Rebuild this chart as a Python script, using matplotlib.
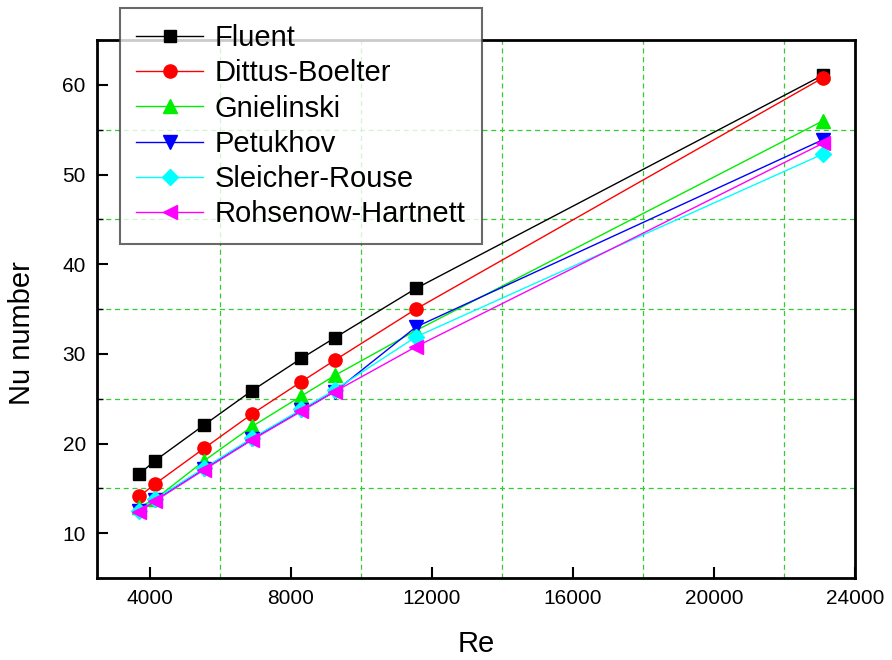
import matplotlib.pyplot as plt
from matplotlib.ticker import MultipleLocator

plt.rcParams['font.family'] = ['Liberation Sans', 'DejaVu Sans']

# Data
re = [3700, 4150, 5550, 6900, 8300, 9250, 11550, 23100]
fluent = [16.6, 18.1, 22.1, 25.9, 29.5, 31.8, 37.3, 61.1]
dittus = [14.1, 15.5, 19.5, 23.3, 26.9, 29.3, 35.0, 60.8]
gnielinski = [12.9, 13.8, 18.1, 21.9, 25.3, 27.6, 32.6, 56.0]
petukhov = [12.5, 13.7, 17.2, 20.5, 23.7, 25.8, 33.0, 53.9]
sleicher = [12.5, 13.8, 17.3, 20.6, 23.8, 26.0, 31.9, 52.3]
rohsenow = [12.4, 13.6, 17.1, 20.4, 23.6, 25.8, 30.8, 53.5]

series = [
    ("Fluent", fluent, "black", "s", 8.5),
    ("Dittus-Boelter", dittus, "#ff0000", "o", 9.5),
    ("Gnielinski", gnielinski, "#00ee00", "^", 10.5),
    ("Petukhov", petukhov, "#0000ff", "v", 10.5),
    ("Sleicher-Rouse", sleicher, "#00ffff", "D", 8.5),
    ("Rohsenow-Hartnett", rohsenow, "#ff00ff", "<", 10.5),
]

fig = plt.figure(figsize=(8.92, 6.6), dpi=100)
ax = fig.add_axes([0.1087, 0.1242, 0.8498, 0.8152])

for name, vals, col, mk, ms in series:
    ax.plot(re, vals, color=col, marker=mk, markersize=ms, linewidth=1.0,
            markeredgecolor=col, label=name)

ax.set_xlim(2500, 24000)
ax.set_ylim(5, 65)
ax.xaxis.set_major_locator(MultipleLocator(4000))
ax.xaxis.set_minor_locator(MultipleLocator(2000))
ax.yaxis.set_major_locator(MultipleLocator(10))
ax.yaxis.set_minor_locator(MultipleLocator(5))

# сетка только на промежуточных делениях
for xv in [6000, 10000, 14000, 18000, 22000]:
    ax.axvline(xv, color="#33cc33", linestyle=(0, (4, 3)), linewidth=0.9, zorder=0)
for yv in [15, 25, 35, 45, 55]:
    ax.axhline(yv, color="#33cc33", linestyle=(0, (4, 3)), linewidth=0.9, zorder=0)

ax.tick_params(which="major", direction="in", length=8, width=1.5, labelsize=15, pad=8)
ax.tick_params(which="minor", direction="in", length=4, width=1.0)
ax.tick_params(axis="x", which="minor", length=0)
for sp in ax.spines.values():
    sp.set_linewidth(2)

ax.set_xlabel("Re", fontsize=21)
ax.set_ylabel("Nu number", fontsize=21)
ax.xaxis.set_label_coords(0.5, -0.097)
ax.yaxis.set_label_coords(-0.08, 0.455)

leg = ax.legend(loc="upper left", bbox_to_anchor=(0.1345, 0.988),
                bbox_transform=fig.transFigure, fontsize=21, frameon=True,
                fancybox=False, edgecolor="#444444", handlelength=2.3,
                borderaxespad=0, labelspacing=0.25, borderpad=0.55,
                handletextpad=0.4)
leg.get_frame().set_linewidth(1.5)
leg.set_zorder(5)

fig.savefig("out.png", dpi=100)
